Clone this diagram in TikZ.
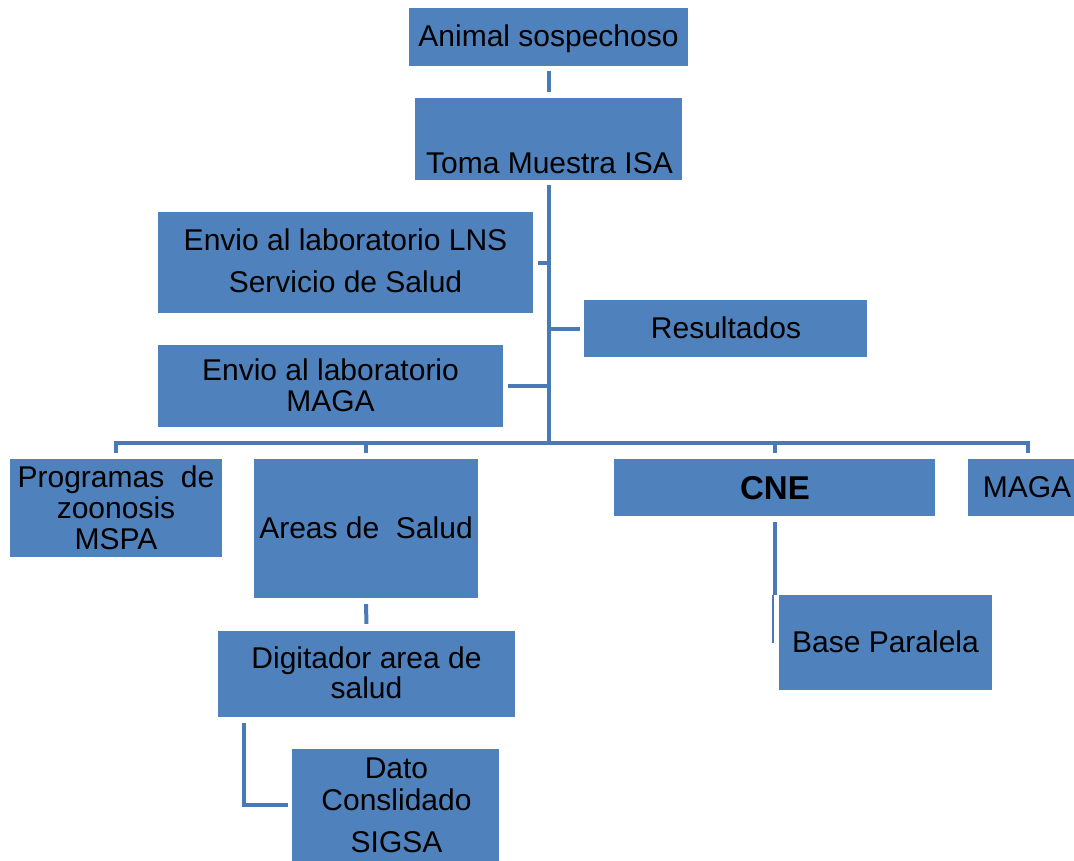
\documentclass[tikz,border=0pt]{standalone}
\usepackage{fontspec}
\setmainfont{Liberation Sans}
\definecolor{boxblue}{HTML}{4F81BD}
\definecolor{lineblue}{HTML}{4A7AB5}
\begin{document}
\begin{tikzpicture}[x=1pt,y=-1pt,
  box/.style={fill=boxblue, draw=none, inner sep=0pt, rectangle},
  txt/.style={anchor=base, inner sep=0pt, text=black, font=\fontsize{30}{34}\selectfont},
  conn/.style={draw=lineblue, line width=4pt},
  thinconn/.style={draw=lineblue, line width=1.5pt}]
\clip (0,0) rectangle (1074,860);
\fill[white] (0,0) rectangle (1074,860);

% boxes (center x, center y, width, height)
\node[box, minimum width=279pt, minimum height=58pt] (animal) at (548.5,37) {};
\node[box, minimum width=267pt, minimum height=82pt] (toma) at (548.5,139) {};
\node[box, minimum width=375pt, minimum height=101pt] (lns) at (345.5,262.5) {};
\node[box, minimum width=283pt, minimum height=57pt] (res) at (725.5,328.5) {};
\node[box, minimum width=345pt, minimum height=82pt] (labmaga) at (330.5,386) {};
\node[box, minimum width=212pt, minimum height=98pt] (prog) at (116,508) {};
\node[box, minimum width=224pt, minimum height=139pt] (areas) at (366,528.5) {};
\node[box, minimum width=321pt, minimum height=57pt] (cne) at (774.5,487.5) {};
\node[box, minimum width=120pt, minimum height=57pt] (maga) at (1028,487.5) {};
\node[box, minimum width=297pt, minimum height=86pt] (dig) at (366.5,674) {};
\node[box, minimum width=207pt, minimum height=112pt] (dato) at (395.5,805) {};
\node[box, minimum width=213pt, minimum height=95pt] (base) at (885.5,642.5) {};

% texts
\node[txt] (animal-t) at (548.5,46) {Animal sospechoso};
\node[txt] (toma-t) at (549.5,173) {Toma Muestra ISA};
\node[txt] (lns-t1) at (345.5,250) {Envio al laboratorio LNS};
\node[txt] (lns-t2) at (345.5,292) {Servicio de Salud};
\node[txt] (res-t) at (726,338) {Resultados};
\node[txt] (labmaga-t1) at (330.5,380) {Envio al laboratorio};
\node[txt] (labmaga-t2) at (330.5,411) {MAGA};
\node[txt] (prog-t1) at (116,487) {Programas\ \ de};
\node[txt] (prog-t2) at (116,518) {zoonosis};
\node[txt] (prog-t3) at (116,549) {MSPA};
\node[txt] (areas-t) at (366,538) {Areas de\ \ Salud};
\node[txt, font=\fontsize{33}{38}\selectfont\bfseries] (cne-t) at (775,499) {CNE};
\node[txt] (maga-t) at (1027,497) {MAGA};
\node[txt] (dig-t1) at (366.5,668) {Digitador area de};
\node[txt] (dig-t2) at (366.5,698) {salud};
\node[txt] (dato-t1) at (396.5,778) {Dato};
\node[txt] (dato-t2) at (396.5,810) {Conslidado};
\node[txt] (dato-t3) at (396.5,852) {SIGSA};
\node[txt] (base-t) at (885.5,652) {Base Paralela};

% connectors
\coordinate (bus) at (548,443);
\draw[conn, shorten <=5pt, shorten >=6pt] (animal.south) -- (toma.north);
\draw[conn, shorten <=5pt] (toma.south) -- (toma.south |- bus);
\draw[conn, shorten <=5pt] (lns.east) -- (lns.east -| toma.south);
\draw[conn, shorten <=4pt] (res.west) -- (res.west -| toma.south);
\draw[conn, shorten <=5pt] (labmaga.east) -- (labmaga.east -| toma.south);
\draw[conn, line join=miter, shorten <=6pt, shorten >=6pt] (prog.north) -- (prog.north |- bus) -- (maga.north |- bus) -- (maga.north);
\draw[conn, shorten >=6pt] (areas.north |- bus) -- (areas.north);
\draw[conn, shorten >=6pt] (cne.north |- bus) -- (cne.north);
\draw[conn, shorten <=6pt, shorten >=7pt] (areas.south) -- (dig.north);
\draw[conn, line join=miter, shorten >=4pt] ([xshift=26pt,yshift=-6pt]dig.south west) |- (dato.west);
\draw[conn, shorten <=6pt] (cne.south) -- (cne.south |- base.north);
\draw[thinconn] ([xshift=-1.5pt]cne.south |- base.north) -- ([xshift=-1.5pt]cne.south |- base.west);
\end{tikzpicture}
\end{document}
